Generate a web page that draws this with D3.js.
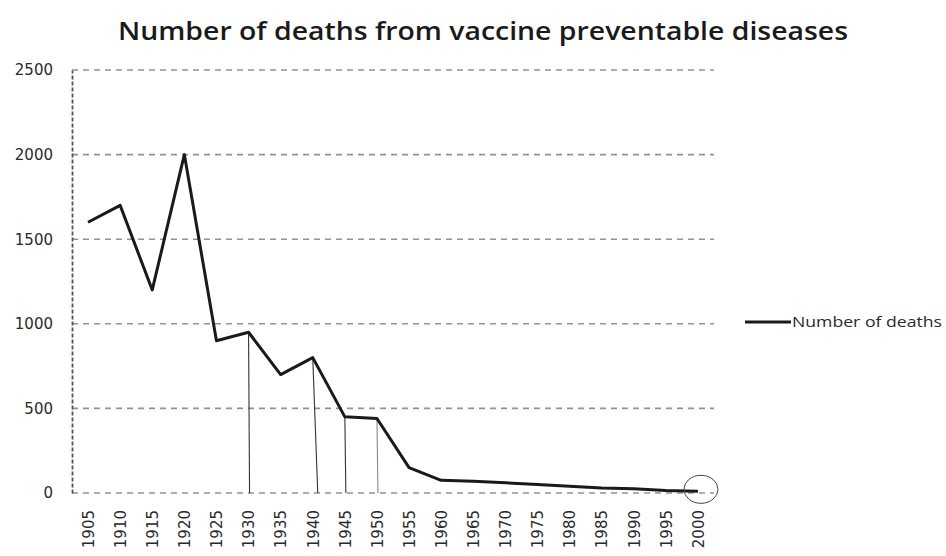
<!DOCTYPE html>
<html>
<head>
<meta charset="utf-8">
<script src="https://cdn.jsdelivr.net/npm/d3@7"></script>
<style>
  html, body { margin: 0; padding: 0; background: #fff; }
  svg { display: block; }
</style>
</head>
<body>
<svg id="chart" width="946" height="556"></svg>
<script>
// Chart data
const years = ["1905","1910","1915","1920","1925","1930","1935","1940","1945","1950",
               "1955","1960","1965","1970","1975","1980","1985","1990","1995","2000"];
const deaths = [1600, 1700, 1200, 2000, 900, 950, 700, 800, 450, 440,
                150, 75, 70, 60, 50, 40, 30, 25, 15, 10];
const yTicks = [0, 500, 1000, 1500, 2000, 2500];
const seriesName = "Number of deaths";
const titleText = "Number of deaths from vaccine preventable diseases";
// Pencil marks on the printed chart: drop lines and a ring around the last point
const dropYears = ["1930", "1940", "1945", "1950"];
const circledYear = "2000";

const svg = d3.select("#chart");
const W = 946, H = 556;
const plot = { left: 72, right: 714, top: 70, bottom: 493 };

const x = d3.scalePoint().domain(years).range([plot.left, plot.right]).padding(0.5);
const y = d3.scaleLinear().domain([0, 2500]).range([plot.bottom, plot.top]);

svg.append("rect").attr("width", W).attr("height", H).attr("fill", "#fff");

// Title
svg.append("text")
  .attr("x", 483).attr("y", 40)
  .attr("text-anchor", "middle")
  .attr("font-family", "Open Sans, sans-serif")
  .attr("font-weight", 600)
  .attr("font-size", 25)
  .attr("fill", "#1a1a1a")
  .attr("textLength", 730)
  .attr("lengthAdjust", "spacingAndGlyphs")
  .text(titleText);

// Horizontal grid lines
svg.append("g").attr("class", "grid")
  .selectAll("line").data(yTicks).join("line")
  .attr("x1", plot.left).attr("x2", plot.right)
  .attr("y1", d => y(d)).attr("y2", d => y(d))
  .attr("stroke", "#6f6f6f")
  .attr("stroke-width", 1.6)
  .attr("stroke-dasharray", "6,5")
  .attr("opacity", 0.75);

// Y axis
const yAxis = d3.axisLeft(y).tickValues(yTicks).tickFormat(d3.format("d"))
  .tickSize(0).tickPadding(19);
const gy = svg.append("g").attr("transform", `translate(${plot.left},0)`).call(yAxis);
gy.select(".domain")
  .attr("stroke", "#555")
  .attr("stroke-width", 1.8)
  .attr("stroke-dasharray", "4,2");
gy.selectAll("text")
  .attr("font-family", "DejaVu Sans, sans-serif")
  .attr("font-size", 15)
  .attr("fill", "#2a2a2a");

// X axis with rotated year labels
const xAxis = d3.axisBottom(x).tickSize(0).tickPadding(0);
const gx = svg.append("g").attr("transform", `translate(0,${plot.bottom})`).call(xAxis);
gx.select(".domain").remove();
gx.selectAll("text")
  .attr("font-family", "DejaVu Sans, sans-serif")
  .attr("font-size", 15)
  .attr("fill", "#2a2a2a")
  .attr("text-anchor", "end")
  .attr("dy", "0.35em")
  .attr("transform", "translate(0,17) rotate(-90)")
  .attr("x", 0).attr("y", 0);

// Pencil drop lines from selected points to the axis
const byYear = new Map(years.map((yr, i) => [yr, deaths[i]]));
svg.append("g").selectAll("line").data(dropYears).join("line")
  .attr("x1", d => x(d)).attr("x2", d => x(d) + (d === "1940" ? 5 : 1))
  .attr("y1", d => y(byYear.get(d))).attr("y2", y(0))
  .attr("stroke", d => d === "1950" ? "#888" : "#333")
  .attr("stroke-width", 1.1);

// Data line
const line = d3.line().x((d, i) => x(years[i])).y(d => y(d));
svg.append("path")
  .datum(deaths)
  .attr("fill", "none")
  .attr("stroke", "#1a1a1a")
  .attr("stroke-width", 3)
  .attr("stroke-linejoin", "round")
  .attr("d", line);

// Ring around the final point
svg.append("ellipse")
  .attr("cx", x(circledYear) + 3).attr("cy", y(byYear.get(circledYear)) - 2)
  .attr("rx", 17).attr("ry", 14)
  .attr("fill", "none")
  .attr("stroke", "#444")
  .attr("stroke-width", 1);

// Legend
const lg = svg.append("g").attr("transform", "translate(745,322)");
lg.append("line").attr("x1", 0).attr("x2", 46).attr("y1", 0).attr("y2", 0)
  .attr("stroke", "#1a1a1a").attr("stroke-width", 3);
lg.append("text")
  .attr("x", 47).attr("y", 0).attr("dy", "0.35em")
  .attr("font-family", "Open Sans, sans-serif")
  .attr("font-size", 15)
  .attr("fill", "#2a2a2a")
  .attr("textLength", 150)
  .attr("lengthAdjust", "spacingAndGlyphs")
  .text(seriesName);
</script>
</body>
</html>
